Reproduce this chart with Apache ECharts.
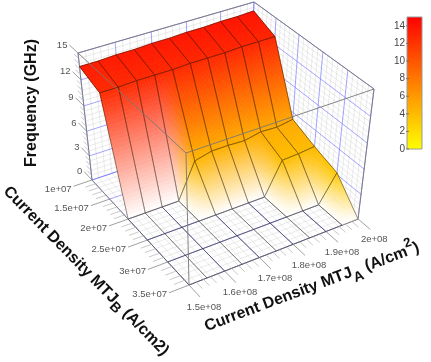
<!DOCTYPE html>
<html><head><meta charset="utf-8">
<style>html,body{margin:0;padding:0;background:#fff}#c{width:431px;height:362px;filter:blur(0.4px)}</style>
<script src="https://cdn.jsdelivr.net/npm/echarts@6/dist/echarts.min.js"></script>
</head><body><div id="c"></div>
<script>
// ---- data ----
const currentA = ['1.5e8','1.55e8','1.6e8','1.65e8','1.7e8','1.75e8','1.8e8','1.85e8','1.9e8','1.95e8','2e8'];
const currentB = ['1e7','1.5e7','2e7','2.5e7','3e7','3.5e7'];
const freqB1 = [13.5,13.5,13.6,13.6,13.7,13.7,13.8,13.8,13.9,13.9,14.0];
const freqB2 = [12.6,12.6,12.7,12.7,12.7,12.8,12.8,12.8,12.9,12.9,12.9];
const freqB3 = [0,0,0,0,4.2,4.7,4.7,4.6,5.0,4.9,5.2];
const freqB4 = [0,0,0,0,0,0,0,0,3.8,3.9,4.1];
const freqB5 = [0,0,0,0,0,0,0,0,0,0,3.2];
const freqB6 = [0,0,0,0,0,0,0,0,0,0,0];
const freq = [freqB1,freqB2,freqB3,freqB4,freqB5,freqB6];
const tickA = ['1.5e+08','1.6e+08','1.7e+08','1.8e+08','1.9e+08','2e+08'];
const tickB = ['1e+07','1.5e+07','2e+07','2.5e+07','3e+07','3.5e+07'];
const tickZ = ['0','3','6','9','12','15'];
const tickBar = ['0','2','4','6','8','10','12','14'];

// ---- view of the box (the scale that turns data into pixels) ----
const floorBox = {L:[92,180],B:[249,127],R:[358,219],F:[189,285]};
const roofBox  = {L:[78,53],B:[254,2],R:[374,89],F:[186,153]};
const ZMAX = 15, PERSP = 1.07;
function homography(c){
  const [x0,y0]=c.L,[x1,y1]=c.B,[x2,y2]=c.R,[x3,y3]=c.F;
  const dx1=x1-x2,dx2=x3-x2,sx=x0-x1+x2-x3,dy1=y1-y2,dy2=y3-y2,sy=y0-y1+y2-y3;
  const den=dx1*dy2-dx2*dy1,g=(sx*dy2-dx2*sy)/den,h=(dx1*sy-sx*dy1)/den;
  const a=x1-x0+g*x1,b=x3-x0+h*x3,d=y1-y0+g*y1,e=y3-y0+h*y3;
  return (s,t)=>{const w=g*s+h*t+1;return [(a*s+b*t+x0)/w,(d*s+e*t+y0)/w];};
}
const hFloor=homography(floorBox),hRoof=homography(roofBox);
function P(x,y,z){
  const p=hFloor(x,y),q=hRoof(x,y),n=z/ZMAX,t=n/(n+(1-n)*PERSP);
  return [p[0]+(q[0]-p[0])*t,p[1]+(q[1]-p[1])*t];
}
function colorAt(z){ return z<=0?[255,255,255]:[255,255*(1-z/ZMAX),0]; }
const nx=currentA.length-1,ny=currentB.length-1;

const BLUE='rgba(120,120,250,0.75)',MINOR='rgba(190,190,190,0.45)',FRAME='rgba(120,120,120,0.9)',MESH='rgba(30,20,0,0.6)',MESHFLOOR='rgba(50,50,60,0.5)';
const line=(a,b,stroke,w)=>({type:'line',shape:{x1:a[0],y1:a[1],x2:b[0],y2:b[1]},style:{stroke,lineWidth:w||0.8}});
const seq=(n)=>Array.from({length:n+1},(_,k)=>k/n);

function wallChildren(){
  const ch=[];
  const fam=(n,major,fn)=>{ seq(n).forEach((v,k)=>{ if(k%major) ch.push(line(...fn(v),MINOR,0.7)); }); };
  const famMajor=(n,major,fn)=>{ seq(n).forEach((v,k)=>{ if(!(k%major)) ch.push(line(...fn(v),BLUE,0.9)); }); };
  const sets=[
    [25,5,v=>[P(v,0,0),P(v,1,0)]],[25,5,v=>[P(0,v,0),P(1,v,0)]],
    [25,5,v=>[P(v,0,0),P(v,0,ZMAX)]],[25,5,v=>[P(0,0,v*ZMAX),P(1,0,v*ZMAX)]],
    [25,5,v=>[P(1,v,0),P(1,v,ZMAX)]],[25,5,v=>[P(1,0,v*ZMAX),P(1,1,v*ZMAX)]]
  ];
  sets.forEach(s=>fam(...s));sets.forEach(s=>famMajor(...s));
  [[[0,0,0],[0,0,1]],[[1,1,0],[1,1,1]],[[0,0,1],[1,0,1]],[[1,0,1],[1,1,1]],[[0,0,0],[0,1,0]],[[0,1,0],[1,1,0]]]
   .forEach(e=>ch.push(line(P(e[0][0],e[0][1],e[0][2]*ZMAX),P(e[1][0],e[1][1],e[1][2]*ZMAX),FRAME,1)));
  return ch;
}
function cellChildren(i,j){
  const ch=[],NU=12,NV=32;
  const z00=freq[j][i],z10=freq[j][i+1],z01=freq[j+1][i],z11=freq[j+1][i+1];
  const c00=colorAt(z00),c10=colorAt(z10),c01=colorAt(z01),c11=colorAt(z11);
  const pt=(u,v)=>{
    const z=(1-u)*(1-v)*z00+u*(1-v)*z10+(1-u)*v*z01+u*v*z11;
    return P((i+u)/nx,(j+v)/ny,z);
  };
  const flat=z00+z10+z01+z11<=0;
  if(!flat){
    for(let a=0;a<NU;a++)for(let b=0;b<NV;b++){
      const u=(a+.5)/NU,v=(b+.5)/NV;
      const col=[0,1,2].map(k=>Math.round((1-u)*(1-v)*c00[k]+u*(1-v)*c10[k]+(1-u)*v*c01[k]+u*v*c11[k]));
      const css='rgb('+col.join(',')+')';
      ch.push({type:'polygon',shape:{points:[pt(a/NU,b/NV),pt((a+1)/NU,b/NV),pt((a+1)/NU,(b+1)/NV),pt(a/NU,(b+1)/NV)]},
        style:{fill:css,stroke:css,lineWidth:0.6}});
    }
  }
  ch.push({type:'polygon',shape:{points:[pt(0,0),pt(1,0),pt(1,1),pt(0,1)]},style:{fill:'none',stroke:flat?MESHFLOOR:MESH,lineWidth:0.8}});
  return ch;
}
function frontChildren(){
  return [
    line(P(0,0,ZMAX),P(0,1,ZMAX),FRAME,1),
    line(P(0,1,ZMAX),P(1,1,ZMAX),FRAME,1),
    line(P(0,1,0),P(0,1,ZMAX),FRAME,1)
  ];
}
const FONT='"Liberation Sans",Arial,sans-serif';
const label=(text,x,y,align,size,fill)=>({type:'text',x,y,style:{text,fill:fill||'#555',fontSize:size||9.5,fontFamily:FONT,align:align||'center',verticalAlign:'middle'}});
function axisChildren(){
  const ch=[],MAJ='#888',MIN='#bbb';
  seq(25).forEach((v,k)=>{const z=v*ZMAX,maj=!(k%5);
    ch.push(line(P(0,0,z),P(0,maj?-0.09:-0.05,z),maj?MAJ:MIN,0.8));});
  tickZ.forEach(t=>{const e=P(0,-0.09,+t);ch.push(label(t,e[0]-2,e[1],'right'));});
  seq(25).forEach((v,k)=>{const maj=!(k%5);
    ch.push(line(P(0,v,0),P(maj?-0.11:-0.06,v,0),maj?MAJ:MIN,0.8));});
  tickB.forEach((t,k)=>{const e=P(-0.11,k/5,0);ch.push(label(t,e[0]-2,e[1]+3-k*0.3,'right'));});
  seq(25).forEach((v,k)=>{const maj=!(k%5);
    ch.push(line(P(v,1,0),P(v,maj?1.1:1.055,0),maj?MAJ:MIN,0.8));});
  tickA.forEach((t,k)=>{const e=P(k/5,1.1,0);ch.push(label(t,e[0]+4,e[1]+10));});
  const titleStyle=(text,rich)=>({text,fontFamily:FONT,align:'center',verticalAlign:'middle',rich});
  const n={fontSize:16,fontWeight:'bold',fontFamily:FONT,fill:'#111',lineHeight:28};
  ch.push({type:'text',x:32,y:103,rotation:Math.PI/2,style:{text:'Frequency (GHz)',fontSize:16,fontWeight:'bold',fontFamily:FONT,fill:'#111',align:'center',verticalAlign:'middle'}});
  ch.push({type:'text',x:312,y:287,rotation:20.6*Math.PI/180,style:titleStyle('{n|Current Density MTJ}{s|A}{n| (A/cm}{u|2}{n|)}',
    {n,s:{...n,fontSize:14,verticalAlign:'bottom'},u:{...n,fontSize:13,verticalAlign:'top'}})});
  const nb={...n,lineHeight:24};
  ch.push({type:'text',x:86,y:271,rotation:-45.7*Math.PI/180,style:titleStyle('{n|Current Density MTJ}{s|B}{n| (A/cm2)}',
    {n:nb,s:{...nb,fontSize:14,verticalAlign:'bottom'}})});
  const bar={x:407,y:17,w:15,h:132};
  ch.push({type:'rect',shape:{x:bar.x,y:bar.y,width:bar.w,height:bar.h},
    style:{fill:new echarts.graphic.LinearGradient(0,1,0,0,[{offset:0,color:'rgb(255,255,0)'},{offset:1,color:'rgb(255,0,0)'}]),stroke:'#999',lineWidth:1}});
  tickBar.forEach(t=>{const y=bar.y+bar.h*(1-t/ZMAX);
    ch.push(line([bar.x-1,y],[bar.x+2,y],'#666',0.8));
    ch.push(label(t,bar.x-2,y,'right',10,'#444'));});
  return ch;
}
const cells=[];
for(let j=0;j<ny;j++)for(let i=nx-1;i>=0;i--)cells.push([i,j]);
const layer=(name,data,fn)=>({type:'custom',name,coordinateSystem:'none',silent:true,animation:false,clip:false,data,
  renderItem:(params,api)=>({type:'group',children:fn(params.dataIndex)})});
const chart=echarts.init(document.getElementById('c'),null,{renderer:'canvas'});
chart.setOption({animation:false,backgroundColor:'#fff',series:[
  layer('walls',[0],wallChildren),
  layer('surface',cells,k=>cellChildren(cells[k][0],cells[k][1])),
  layer('front',[0],frontChildren),
  layer('axes',[0],axisChildren)
]});
</script></body></html>
